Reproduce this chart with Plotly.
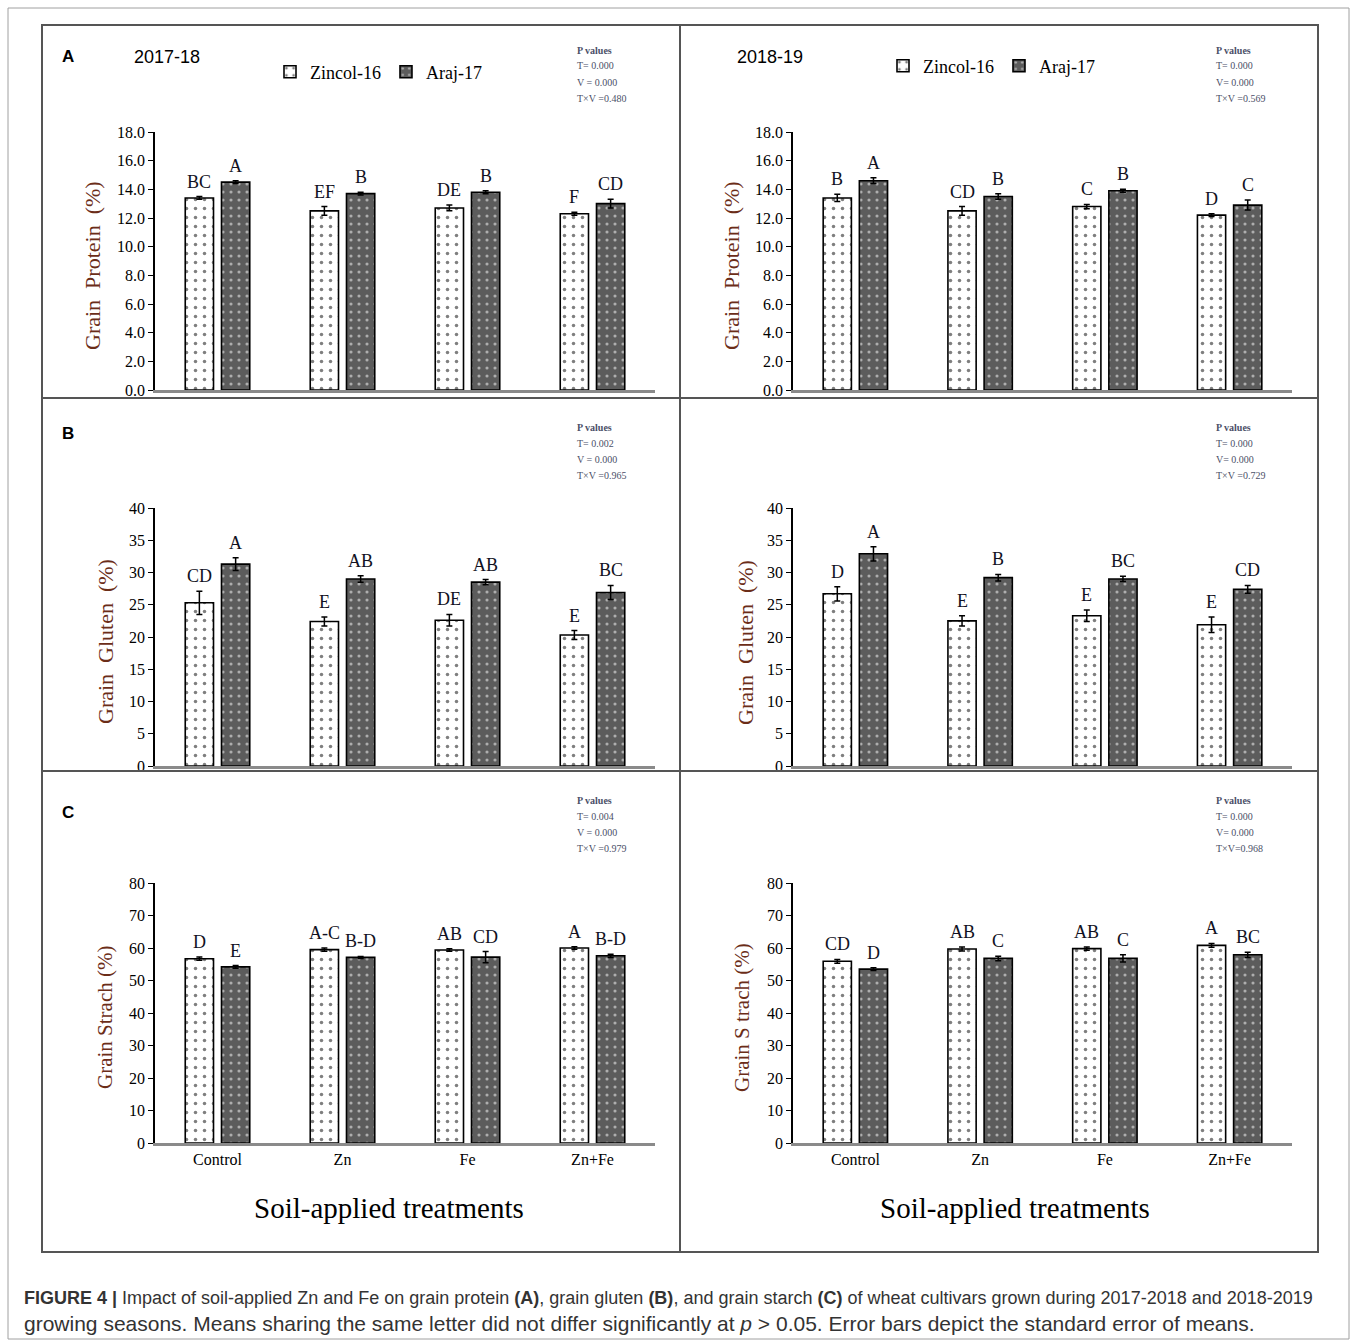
import plotly.graph_objects as go

# ---------------- data ----------------
categories = ["Control", "Zn", "Fe", "Zn+Fe"]
cultivars = ["Zincol-16", "Araj-17"]

protein_1718_zincol = [13.4, 12.5, 12.7, 12.3]
protein_1718_zincol_se = [0.1, 0.3, 0.2, 0.1]
protein_1718_araj = [14.5, 13.7, 13.8, 13.0]
protein_1718_araj_se = [0.1, 0.1, 0.1, 0.3]
protein_1718_zincol_letters = ["BC", "EF", "DE", "F"]
protein_1718_araj_letters = ["A", "B", "B", "CD"]

protein_1819_zincol = [13.4, 12.5, 12.8, 12.2]
protein_1819_zincol_se = [0.25, 0.3, 0.15, 0.1]
protein_1819_araj = [14.6, 13.5, 13.9, 12.9]
protein_1819_araj_se = [0.2, 0.2, 0.1, 0.35]
protein_1819_zincol_letters = ["B", "CD", "C", "D"]
protein_1819_araj_letters = ["A", "B", "B", "C"]

gluten_1718_zincol = [25.3, 22.4, 22.6, 20.3]
gluten_1718_zincol_se = [1.8, 0.7, 0.9, 0.7]
gluten_1718_araj = [31.3, 29.0, 28.5, 26.9]
gluten_1718_araj_se = [1.0, 0.5, 0.4, 1.1]
gluten_1718_zincol_letters = ["CD", "E", "DE", "E"]
gluten_1718_araj_letters = ["A", "AB", "AB", "BC"]

gluten_1819_zincol = [26.7, 22.5, 23.3, 21.9]
gluten_1819_zincol_se = [1.1, 0.8, 0.9, 1.2]
gluten_1819_araj = [32.9, 29.2, 29.0, 27.4]
gluten_1819_araj_se = [1.1, 0.5, 0.4, 0.6]
gluten_1819_zincol_letters = ["D", "E", "E", "E"]
gluten_1819_araj_letters = ["A", "B", "BC", "CD"]

starch_1718_zincol = [56.7, 59.5, 59.4, 60.0]
starch_1718_zincol_se = [0.5, 0.5, 0.4, 0.4]
starch_1718_araj = [54.2, 57.1, 57.2, 57.6]
starch_1718_araj_se = [0.4, 0.3, 1.7, 0.5]
starch_1718_zincol_letters = ["D", "A-C", "AB", "A"]
starch_1718_araj_letters = ["E", "B-D", "CD", "B-D"]

starch_1819_zincol = [55.9, 59.7, 59.8, 60.8]
starch_1819_zincol_se = [0.6, 0.6, 0.5, 0.6]
starch_1819_araj = [53.5, 56.8, 56.8, 57.9]
starch_1819_araj_se = [0.4, 0.7, 1.1, 0.8]
starch_1819_zincol_letters = ["CD", "AB", "AB", "A"]
starch_1819_araj_letters = ["D", "C", "C", "BC"]

p_values_text = [
    ["T= 0.000", "V = 0.000", "T×V =0.480"],
    ["T= 0.000", "V= 0.000", "T×V =0.569"],
    ["T= 0.002", "V = 0.000", "T×V =0.965"],
    ["T= 0.000", "V= 0.000", "T×V =0.729"],
    ["T= 0.004", "V = 0.000", "T×V =0.979"],
    ["T= 0.000", "V= 0.000", "T×V=0.968"],
]

# ---------------- page geometry (pixels) ----------------
W, H = 1357, 1341


def fx(px):
    return px / W


def fy(py):
    return 1 - py / H


SERIF = "Liberation Serif"
SANS = "Liberation Sans"
BARGAP = 0.42
BARGROUPGAP = 0.22
HALF_SLOT = (1 - BARGAP) / 4  # offset of each bar centre from the category centre

col_x = [(155, 655), (793, 1292)]
row_y = [(132, 390), (508, 766), (883, 1143)]

panels = [
    dict(z=protein_1718_zincol, zse=protein_1718_zincol_se, a=protein_1718_araj, ase=protein_1718_araj_se,
         zl=protein_1718_zincol_letters, al=protein_1718_araj_letters,
         ymax=18, dtick=2, fmt=".1f", title="Grain  Protein  (%)", tfs=22, tx=92),
    dict(z=protein_1819_zincol, zse=protein_1819_zincol_se, a=protein_1819_araj, ase=protein_1819_araj_se,
         zl=protein_1819_zincol_letters, al=protein_1819_araj_letters,
         ymax=18, dtick=2, fmt=".1f", title="Grain  Protein  (%)", tfs=22, tx=731),
    dict(z=gluten_1718_zincol, zse=gluten_1718_zincol_se, a=gluten_1718_araj, ase=gluten_1718_araj_se,
         zl=gluten_1718_zincol_letters, al=gluten_1718_araj_letters,
         ymax=40, dtick=5, fmt="d", title="Grain  Gluten  (%)", tfs=22, tx=105),
    dict(z=gluten_1819_zincol, zse=gluten_1819_zincol_se, a=gluten_1819_araj, ase=gluten_1819_araj_se,
         zl=gluten_1819_zincol_letters, al=gluten_1819_araj_letters,
         ymax=40, dtick=5, fmt="d", title="Grain  Gluten  (%)", tfs=22, tx=745),
    dict(z=starch_1718_zincol, zse=starch_1718_zincol_se, a=starch_1718_araj, ase=starch_1718_araj_se,
         zl=starch_1718_zincol_letters, al=starch_1718_araj_letters,
         ymax=80, dtick=10, fmt="d", title="Grain Strach (%)", tfs=21, tx=105),
    dict(z=starch_1819_zincol, zse=starch_1819_zincol_se, a=starch_1819_araj, ase=starch_1819_araj_se,
         zl=starch_1819_zincol_letters, al=starch_1819_araj_letters,
         ymax=80, dtick=10, fmt="d", title="Grain S trach (%)", tfs=21, tx=742),
]

zincol_marker = dict(
    color="white",
    line=dict(color="black", width=1.6),
    pattern=dict(shape=".", fgcolor="black", bgcolor="white", size=9, solidity=0.12),
)
araj_marker = dict(
    color="#5c5c5c",
    line=dict(color="black", width=1.6),
    pattern=dict(shape=".", fgcolor="white", bgcolor="#5c5c5c", size=8, solidity=0.12),
)

fig = go.Figure()
annotations = []
layout_axes = {}


def paper_text(xpix, ypix, text, font, xanchor="center", yanchor="middle", **kw):
    return dict(x=fx(xpix), y=fy(ypix), xref="paper", yref="paper", text=text,
                showarrow=False, xanchor=xanchor, yanchor=yanchor, font=font, **kw)


for i, p in enumerate(panels):
    n = i + 1
    col, row = i % 2, i // 2
    xa = "x" if n == 1 else f"x{n}"
    ya = "y" if n == 1 else f"y{n}"
    legend_name = "legend" if n == 1 else "legend2"
    show_leg = n in (1, 2)

    for vals, se, marker, name in ((p["z"], p["zse"], zincol_marker, cultivars[0]),
                                   (p["a"], p["ase"], araj_marker, cultivars[1])):
        fig.add_trace(go.Bar(
            x=categories, y=vals, name=name, marker=marker,
            error_y=dict(type="data", array=se, color="black", thickness=1.5, width=3),
            xaxis=xa, yaxis=ya, showlegend=show_leg, legend=legend_name,
            hoverinfo="skip",
        ))

    x0, x1 = col_x[col]
    y0, y1 = row_y[row]
    layout_axes["xaxis" if n == 1 else f"xaxis{n}"] = dict(
        domain=[fx(x0), fx(x1)], anchor=ya, type="category",
        range=[-0.5, 3.5], showline=True, linecolor="#8a8a8a", linewidth=3,
        ticks="", showgrid=False, zeroline=False,
        showticklabels=(row == 2),
        tickfont=dict(family=SERIF, size=16, color="black"),
    )
    layout_axes["yaxis" if n == 1 else f"yaxis{n}"] = dict(
        domain=[fy(y1), fy(y0)], anchor=xa, range=[0, p["ymax"]], dtick=p["dtick"],
        tickformat=p["fmt"], showline=True, linecolor="black", linewidth=1.5,
        ticks="outside", ticklen=5, tickcolor="black", tickwidth=1,
        showgrid=False, zeroline=False,
        tickfont=dict(family=SERIF, size=16, color="black"),
    )

    # significance letters above each error bar
    for j in range(len(categories)):
        for vals, se, letters, off in ((p["z"], p["zse"], p["zl"], -HALF_SLOT),
                                       (p["a"], p["ase"], p["al"], HALF_SLOT)):
            annotations.append(dict(
                x=j + off, y=vals[j] + se[j], xref=xa, yref=ya,
                text=letters[j], showarrow=False, xanchor="center", yanchor="bottom", yshift=3,
                font=dict(family=SERIF, size=18, color="#111122"),
            ))

    # y-axis title
    annotations.append(paper_text(p["tx"], (y0 + y1) / 2 + 5, p["title"],
                                  dict(family=SERIF, size=p["tfs"], color="#6b2d18"),
                                  textangle=-90))

    # P values block
    pv_x = 575 if col == 0 else 1214
    pv_top = [50, 427, 800][row]
    pv_font = dict(family=SERIF, size=10, color="#4b5068")
    annotations.append(paper_text(pv_x, pv_top, "<b>P values</b>", pv_font, xanchor="left"))
    for k, line in enumerate(p_values_text[i]):
        annotations.append(paper_text(pv_x, pv_top + 16 * (k + 1), line, pv_font, xanchor="left"))

# panel letters and season headings
for letter, ypix in (("A", 56), ("B", 434), ("C", 812)):
    annotations.append(paper_text(68, ypix, f"<b>{letter}</b>", dict(family=SANS, size=17, color="black")))
annotations.append(paper_text(167, 57, "2017-18", dict(family=SANS, size=18, color="black")))
annotations.append(paper_text(770, 57, "2018-19", dict(family=SANS, size=18, color="black")))

# x-axis titles under the starch panels
for cx in (389, 1015):
    annotations.append(paper_text(cx, 1208, "Soil-applied treatments",
                                  dict(family=SERIF, size=29, color="black")))

# caption
cap_font = dict(family=SANS, size=18, color="#333333")
annotations.append(paper_text(
    22, 1298,
    ("<b>FIGURE 4 |</b> Impact of soil-applied Zn and Fe on grain protein <b>(A)</b>, "
     "grain gluten <b>(B)</b>, and grain starch <b>(C)</b> of wheat cultivars grown during "
     "2017-2018 and 2018-2019"),
    cap_font, xanchor="left"))
annotations.append(paper_text(
    22, 1323,
    ("growing seasons. Means sharing the same letter did not differ significantly at "
     "<i>p</i> &gt; 0.05. Error bars depict the standard error of means."),
    dict(family=SANS, size=21, color="#333333"), xanchor="left"))

# frames around the whole figure and each panel
shapes = [
    dict(type="rect", xref="paper", yref="paper", x0=fx(8), x1=fx(1349), y0=fy(1339), y1=fy(8),
         line=dict(color="#a0a0a0", width=1)),
    dict(type="rect", xref="paper", yref="paper", x0=fx(42), x1=fx(680), y0=fy(1252), y1=fy(25),
         line=dict(color="#555555", width=2)),
    dict(type="rect", xref="paper", yref="paper", x0=fx(680), x1=fx(1318), y0=fy(1252), y1=fy(25),
         line=dict(color="#555555", width=2)),
]
for ypix in (398, 771):
    shapes.append(dict(type="line", xref="paper", yref="paper", x0=fx(42), x1=fx(1318),
                       y0=fy(ypix), y1=fy(ypix), line=dict(color="#555555", width=2)))

legend_style = dict(orientation="h", xanchor="left", yanchor="middle", bgcolor="rgba(0,0,0,0)",
                    font=dict(family=SERIF, size=18, color="black"), itemwidth=30,
                    traceorder="normal", tracegroupgap=0, itemclick=False)

fig.update_layout(
    width=W, height=H, autosize=False,
    margin=dict(l=0, r=0, t=0, b=0, pad=0, autoexpand=False),
    paper_bgcolor="white", plot_bgcolor="white",
    barmode="group", bargap=BARGAP, bargroupgap=BARGROUPGAP,
    legend=dict(x=fx(270), y=fy(72), **legend_style),
    legend2=dict(x=fx(883), y=fy(66), **legend_style),
    annotations=annotations, shapes=shapes,
    **layout_axes,
)

fig.write_html("out.html")
